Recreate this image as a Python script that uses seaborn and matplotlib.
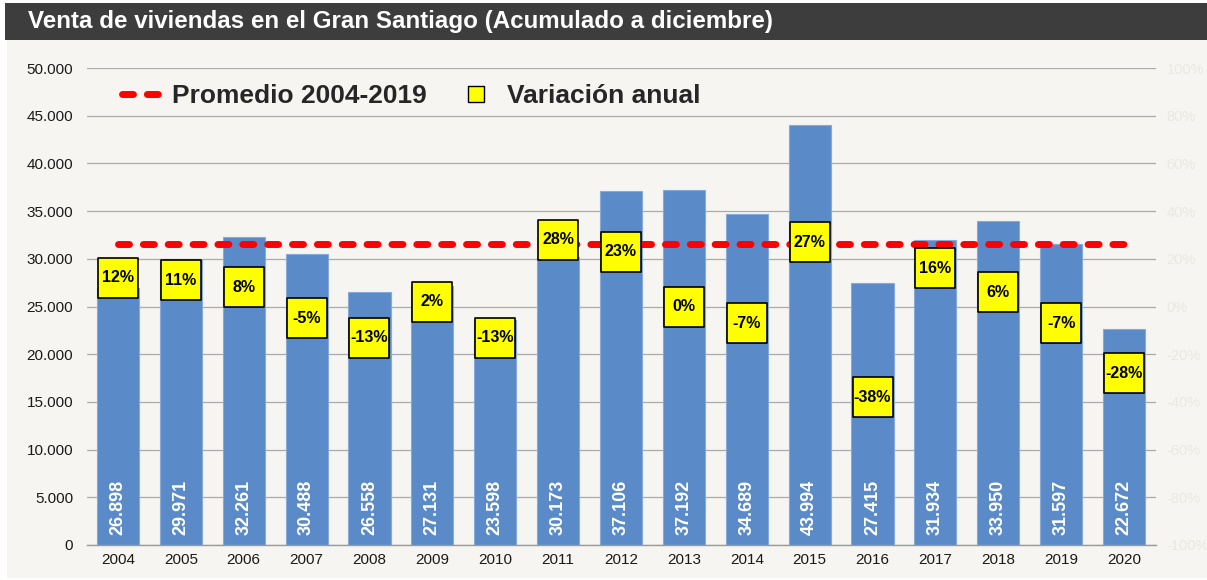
import numpy as np
import pandas as pd
import matplotlib
matplotlib.use("Agg")
import matplotlib.pyplot as plt
import seaborn as sns
from matplotlib.lines import Line2D
from matplotlib.patches import Rectangle
from matplotlib.ticker import FuncFormatter, FixedLocator

# ---------------- data ----------------
years = ["2004", "2005", "2006", "2007", "2008", "2009", "2010", "2011", "2012",
         "2013", "2014", "2015", "2016", "2017", "2018", "2019", "2020"]
ventas = [26898, 29971, 32261, 30488, 26558, 27131, 23598, 30173, 37106,
          37192, 34689, 43994, 27415, 31934, 33950, 31597, 22672]
variacion = [12, 11, 8, -5, -13, 2, -13, 28, 23, 0, -7, 27, -38, 16, 6, -7, -28]
promedio_desde = "2004"
promedio_hasta = "2019"
left_ticks = [0, 5000, 10000, 15000, 20000, 25000, 30000, 35000, 40000, 45000, 50000]
right_ticks = [-100, -80, -60, -40, -20, 0, 20, 40, 60, 80, 100]
title = "Venta de viviendas en el Gran Santiago (Acumulado a diciembre)"
legend_labels = ["Promedio 2004-2019", "Variación anual"]

# average of the stated period, derived from the data
i0, i1 = years.index(promedio_desde), years.index(promedio_hasta)
promedio = float(np.mean(ventas[i0:i1 + 1]))

df = pd.DataFrame({"Año": years, "Ventas": ventas,
                   "Variación": variacion, "pos": np.arange(len(years))})

# ---------------- style ----------------
sns.set_theme(style="white")
plt.rcParams["font.family"] = ["Liberation Sans", "DejaVu Sans"]

BG = "#F6F5F1"
BAR = "#5A8BC8"
W, H = 1207, 580

fig = plt.figure(figsize=(W / 100, H / 100), dpi=100, facecolor="white")
fig.patches.append(Rectangle((7 / W, 2 / H), 1 - 7 / W, 1 - 2 / H - 40 / H,
                             transform=fig.transFigure, facecolor=BG,
                             edgecolor="none", zorder=-10))
fig.patches.append(Rectangle((5 / W, 1 - 40 / H), 1 - 5 / W, 37 / H,
                             transform=fig.transFigure, facecolor="#3D3D3D",
                             edgecolor="none", zorder=-10))
fig.text(28 / W, 1 - 21.5 / H, title, color="white", fontsize=17.4,
         fontweight="bold", ha="left", va="center")

ax = fig.add_axes([86.5 / W, 35 / H, 1069 / W, 477 / H])
ax.set_facecolor("none")

sns.barplot(data=df, x="Año", y="Ventas", color=BAR, saturation=1, width=0.67,
            edgecolor="#86AADA", linewidth=0.8, ax=ax, zorder=2)

ax.set_xlim(-0.5, len(years) - 0.5)
ax.set_ylim(left_ticks[0], left_ticks[-1])
ax.yaxis.set_major_locator(FixedLocator(left_ticks))
ax.yaxis.set_major_formatter(FuncFormatter(lambda v, _: f"{int(v):,}".replace(",", ".")))
ax.set_xlabel("")
ax.set_ylabel("")
ax.yaxis.grid(True, color="#ABABAB", linewidth=0.9)
ax.set_axisbelow(True)
for s in ["left", "right", "top"]:
    ax.spines[s].set_visible(False)
ax.spines["bottom"].set_color("#9A9A9A")
ax.spines["bottom"].set_linewidth(1.0)
ax.tick_params(axis="y", length=0, pad=9.5, labelsize=11, labelcolor="#1A1A1A")
ax.tick_params(axis="x", length=0, pad=5.5, labelsize=11, labelcolor="#1A1A1A")

# values inside bars
for i, v in enumerate(ventas):
    ax.annotate(f"{v:,}".replace(",", "."), xy=(i, 0), xytext=(0, 7),
                textcoords="offset points", rotation=90, ha="center", va="bottom",
                color="white", fontsize=13, fontweight="bold", zorder=4)

# average line (from first to last category)
red_style = dict(color="#FF0000", linewidth=5, linestyle=(0, (1.58, 2.0)),
                 dash_capstyle="round")
ax.plot([i0, len(years) - 1], [promedio, promedio], zorder=3, **red_style)

# secondary axis with annual variation
ax2 = ax.twinx()
ax2.set_ylim(right_ticks[0], right_ticks[-1])
ax2.yaxis.set_major_locator(FixedLocator(right_ticks))
ax2.yaxis.set_major_formatter(FuncFormatter(lambda v, _: f"{int(v)}%"))
for s in ax2.spines.values():
    s.set_visible(False)
ax2.tick_params(axis="y", length=0, pad=8, labelsize=10.5, labelcolor="#EAE8E2")
sns.scatterplot(data=df, x="pos", y="Variación", marker="s", s=790,
                color="#FFFF00", edgecolor="black", linewidth=1.2,
                ax=ax2, zorder=5, legend=False)
ax2.set_xlabel("")
ax2.set_ylabel("")
for i, v in enumerate(variacion):
    ax2.text(i, v, f"{v}%", ha="center", va="center", fontsize=11.5,
             fontweight="bold", color="black", zorder=6)
ax.set_xlim(-0.5, len(years) - 0.5)

# legend
handles = [Line2D([], [], **red_style),
           Line2D([], [], linestyle="none", marker="s", markersize=12,
                  markerfacecolor="#FFFF00", markeredgecolor="black",
                  markeredgewidth=1.0)]
leg = ax2.legend(handles, legend_labels, loc="center left",
                 bbox_to_anchor=((122 - 86.5) / 1069, (545 - 96) / 477),
                 ncol=2, frameon=False, borderpad=0, borderaxespad=0,
                 handlelength=1.45, handletextpad=0.45, columnspacing=1.15,
                 prop={"weight": "bold", "size": 19})

fig.savefig("out.png", dpi=100, facecolor="white")
